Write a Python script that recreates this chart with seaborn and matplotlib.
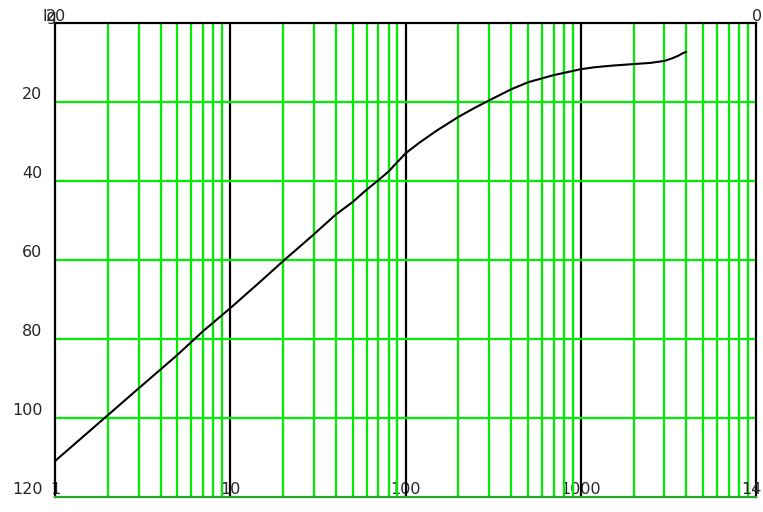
import matplotlib
matplotlib.use("Agg")
import matplotlib.pyplot as plt
import seaborn as sns
import numpy as np
import pandas as pd

# data
x_vals = [1, 2, 3, 5, 7, 10, 15, 20, 30, 40, 50, 60, 70, 80, 100, 120, 150, 200,
          250, 300, 400, 500, 700, 1000, 1200, 1500, 2000, 2500, 3000, 3300, 3600,
          3800, 4000]
y_vals = [110.9, 99.3, 92.5, 84.0, 78.0, 72.2, 65.3, 60.3, 53.5, 48.5, 45.3, 42.2,
          39.8, 37.6, 33.0, 30.3, 27.3, 23.8, 21.4, 19.6, 16.8, 15.0, 13.2, 11.7,
          11.2, 10.8, 10.4, 10.1, 9.6, 9.0, 8.3, 7.7, 7.3]
y_ticks = [0, 20, 40, 60, 80, 100, 120]
y_labels = ["", "20", "40", "60", "80", "100", "120"]
x_ticks = [1, 10, 100, 1000, 10000]
x_labels = ["1", "10", "100", "1000", "14"]

sns.set_style("white")
plt.rcParams['font.family'] = ['DejaVu Sans']

FS = 11.5
fig = plt.figure(figsize=(7.63, 5.12), dpi=100)
ax = fig.add_axes([55 / 763, 15 / 512, 701 / 763, 474 / 512])

df = pd.DataFrame({"x": x_vals, "y": y_vals})

ax.set_xscale("log")
ax.set_xlim(1, 10000)
ax.set_ylim(120, 0)

# grid
minor = [m * 10 ** d for d in range(4) for m in range(2, 10)]
for v in minor:
    ax.axvline(v, color="#00ee00", lw=1.6, zorder=1)
for v in [10, 100, 1000]:
    ax.axvline(v, color="black", lw=1.6, zorder=1)
for v in [20, 40, 60, 80, 100]:
    ax.axhline(v, color="#00ee00", lw=1.6, zorder=1)

sns.lineplot(data=df, x="x", y="y", ax=ax, color="black", lw=1.5, zorder=3)

ax.set_xlabel("")
ax.set_ylabel("")

ax.set_yticks(y_ticks)
ax.set_yticklabels(y_labels, fontsize=FS)
for lab in ax.get_yticklabels():
    lab.set_va("bottom")
ax.set_xticks(x_ticks)
ax.set_xticklabels(x_labels[:-1] + [""], fontsize=FS)
ax.xaxis.set_minor_locator(matplotlib.ticker.NullLocator())
ax.tick_params(axis="x", length=0, pad=-11)
ax.tick_params(axis="y", length=0, pad=9)

for s in ["left", "right", "top"]:
    ax.spines[s].set_color("black")
    ax.spines[s].set_linewidth(1.6)
ax.spines["bottom"].set_color("#22aa22")
ax.spines["bottom"].set_linewidth(1.6)

# last x label, pushed against the right edge as in the reference
fig.text(762 / 763, 1 - 497 / 512, x_labels[-1], fontsize=FS, ha="right", va="bottom")

# corner texts
fig.text(43 / 763, 1 - 24 / 512, "lg", fontsize=FS, ha="left", va="bottom")
fig.text(46 / 763, 1 - 24 / 512, "20", fontsize=FS, ha="left", va="bottom")
fig.text(757 / 763, 1 - 24 / 512, "0", fontsize=FS, ha="center", va="bottom")

fig.savefig("out.png", dpi=100)
